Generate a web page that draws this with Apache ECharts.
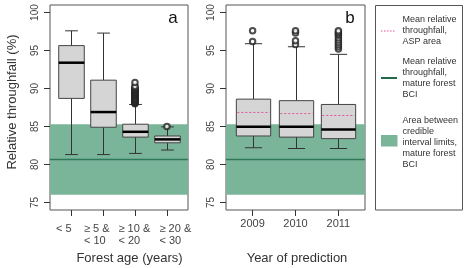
<!DOCTYPE html>
<html><head><meta charset="utf-8">
<script src="https://cdn.jsdelivr.net/npm/echarts@6/dist/echarts.min.js"></script>
<style>html,body{margin:0;padding:0;background:#fff}#c{width:467px;height:268px}</style>
</head><body><div id="c"></div>
<script>
// ---------- data ----------
const ageCategories = ['< 5', '≥ 5 &\n< 10', '≥ 10 &\n< 20', '≥ 20 &\n< 30'];
// [low whisker, Q1, median, Q3, high whisker]
const ageBoxes = [
  [81.3, 88.7, 93.4, 95.65, 97.6],
  [81.3, 84.9, 86.9, 91.1, 97.3],
  [81.45, 83.6, 84.3, 85.3, 87.9],
  [81.9, 82.85, 83.3, 83.75, 84.95]
];
const ageOutliers3 = [88.0, 88.1, 88.2, 88.3, 88.4, 88.5, 88.6, 88.7, 88.8, 88.9, 89.0, 89.1, 89.2, 89.3, 89.4, 89.5, 89.6, 89.7, 89.8, 89.9, 90.0, 90.15, 90.3, 90.8];
const ageOutliers4 = [85.0];
const yearCategories = ['2009', '2010', '2011'];
const yearBoxes = [
  [82.2, 83.75, 84.95, 88.6, 95.9],
  [82.1, 83.6, 84.95, 88.4, 95.5],
  [82.1, 83.4, 84.6, 87.9, 94.5]
];
const yearMeans = [86.85, 86.7, 86.45];
const yearOutliers1 = [96.2, 97.6];
const yearOutliers2 = [95.8, 96.3, 97.3, 97.6];
const yearOutliers3 = [95.2, 95.5, 95.8, 96.1, 96.4, 96.7, 97.0, 97.2, 97.4, 97.6];
const bciMean = 80.65;
const bciLower = 76.0;
const bciUpper = 85.3;
const yTicks = [75, 80, 85, 90, 95, 100];

// ---------- chart ----------
const FONT = '"Liberation Sans", Arial, sans-serif';
const chart = echarts.init(document.getElementById('c'), null, {renderer: 'canvas'});

function boxRender(params, api) {
  const x = api.value(0);
  const lo = api.coord([x, api.value(1)]);
  const q1 = api.coord([x, api.value(2)]);
  const med = api.coord([x, api.value(3)]);
  const q3 = api.coord([x, api.value(4)]);
  const hi = api.coord([x, api.value(5)]);
  const hw = api.size([0.4, 0])[0];
  const cw = hw / 2;
  const cx = Math.round(lo[0]) + 0.5;
  const st = {stroke: '#333', lineWidth: 1, fill: null};
  const ch = [
    {type: 'line', shape: {x1: cx, y1: q3[1], x2: cx, y2: hi[1]}, style: st},
    {type: 'line', shape: {x1: cx, y1: q1[1], x2: cx, y2: lo[1]}, style: st},
    {type: 'line', shape: {x1: cx - cw, y1: hi[1], x2: cx + cw, y2: hi[1]}, style: st},
    {type: 'line', shape: {x1: cx - cw, y1: lo[1], x2: cx + cw, y2: lo[1]}, style: st},
    {type: 'rect', shape: {x: cx - hw, y: q3[1], width: 2 * hw, height: q1[1] - q3[1]},
      style: {fill: '#d5d5d5', stroke: '#444', lineWidth: 1}},
    {type: 'line', shape: {x1: cx - hw, y1: med[1], x2: cx + hw, y2: med[1]},
      style: {stroke: '#000', lineWidth: 2.5}}
  ];
  const m = api.value(6);
  if (m != null && !isNaN(m)) {
    const mp = api.coord([x, m]);
    ch.push({type: 'line', shape: {x1: cx - hw + 1, y1: mp[1], x2: cx + hw - 1, y2: mp[1]},
      style: {stroke: '#e0509a', lineWidth: 1, lineDash: [2, 2]}});
  }
  return {type: 'group', children: ch};
}

function yAxisCfg(gi) {
  return {
    type: 'value', gridIndex: gi, min: 74, max: 101,
    axisLine: {show: false},
    splitLine: {show: false},
    axisTick: {show: true, customValues: yTicks, length: 6, lineStyle: {color: '#333'}},
    axisLabel: {customValues: yTicks, rotate: 90, margin: 10, fontSize: 10, color: '#444', fontFamily: FONT}
  };
}
function xAxisCfg(gi, cats, showLabels) {
  const vals = cats.map((c, i) => i + 1);
  return {
    type: 'value', gridIndex: gi, min: 0.38 - (cats.length === 4 ? 0.04 : 0), max: cats.length + 0.62 + (cats.length === 4 ? 0.04 : 0),
    axisLine: {show: false},
    splitLine: {show: false},
    axisTick: {show: true, customValues: vals, length: 6, lineStyle: {color: '#333'}},
    axisLabel: {show: showLabels, customValues: vals, margin: 8, fontSize: 11, lineHeight: 12, color: '#444', fontFamily: FONT,
      formatter: v => cats[Math.round(v) - 1]}
  };
}

const bandSeries = gi => ({
  type: 'line', xAxisIndex: gi, yAxisIndex: gi, data: [], z: 1, silent: true,
  markArea: {silent: true, itemStyle: {color: '#7ab59a'}, data: [[{yAxis: bciLower}, {yAxis: bciUpper}]]},
  markLine: {silent: true, symbol: 'none', label: {show: false},
    lineStyle: {color: '#2e7a58', width: 1.3, type: 'solid'}, data: [{yAxis: bciMean}]}
});

const ageData = ageBoxes.map((b, i) => [i + 1, ...b]);
const yearData = yearBoxes.map((b, i) => [i + 1, ...b, yearMeans[i]]);
const outA = [].concat(ageOutliers3.map(v => [3, v]), ageOutliers4.map(v => [4, v]));
const outB = [].concat(yearOutliers1.map(v => [1, v]), yearOutliers2.map(v => [2, v]), yearOutliers3.map(v => [3, v]));

const scatterCfg = (gi, d) => ({
  type: 'scatter', xAxisIndex: gi, yAxisIndex: gi, data: d, z: 4, symbol: 'emptyCircle', symbolSize: 5.5,
  itemStyle: {color: '#222', borderColor: '#222', borderWidth: 1.1}, silent: true
});

const legendText = (x, y, lines) => lines.map((t, i) => ({
  type: 'text', left: x, top: y + i * 10.9,
  style: {text: t, font: '9px ' + FONT, fill: '#333'}
}));

// panel a category labels (left-aligned as in the original figure)
const ageLabelLefts = [56, 84, 118.5, 159.5];
const ageLabelGraphics = ageCategories.map((t, i) => ({
  type: 'text', x: ageLabelLefts[i], y: 223,
  style: {text: t, font: '11px ' + FONT, fill: '#444', lineHeight: 12, align: 'left', verticalAlign: 'top'}
}));

chart.setOption({
  animation: false,
  grid: [
    {left: 50, width: 138, top: 5, height: 205, show: true, borderColor: '#555', borderWidth: 1, backgroundColor: 'transparent'},
    {left: 226, width: 139, top: 5, height: 205, show: true, borderColor: '#555', borderWidth: 1, backgroundColor: 'transparent'}
  ],
  xAxis: [xAxisCfg(0, ageCategories, false), xAxisCfg(1, yearCategories, true)],
  yAxis: [yAxisCfg(0), yAxisCfg(1)],
  series: [
    bandSeries(0), bandSeries(1),
    {type: 'custom', xAxisIndex: 0, yAxisIndex: 0, data: ageData, renderItem: boxRender, z: 3, silent: true},
    {type: 'custom', xAxisIndex: 1, yAxisIndex: 1, data: yearData, renderItem: boxRender, z: 3, silent: true},
    scatterCfg(0, outA), scatterCfg(1, outB)
  ],
  graphic: [
    ...ageLabelGraphics,
    {type: 'text', x: 173, y: 18, style: {text: 'a', font: '17px ' + FONT, fill: '#111', align: 'center', verticalAlign: 'middle'}},
    {type: 'text', x: 350, y: 18, style: {text: 'b', font: '17px ' + FONT, fill: '#111', align: 'center', verticalAlign: 'middle'}},
    {type: 'text', x: 12.5, y: 102, rotation: Math.PI / 2,
      style: {text: 'Relative throughfall (%)', font: '13px ' + FONT, fill: '#333', align: 'center', verticalAlign: 'middle'}},
    {type: 'text', x: 129.5, y: 258, style: {text: 'Forest age (years)', font: '13px ' + FONT, fill: '#333', align: 'center', verticalAlign: 'middle'}},
    {type: 'text', x: 297, y: 258, style: {text: 'Year of prediction', font: '13px ' + FONT, fill: '#333', align: 'center', verticalAlign: 'middle'}},
    {type: 'rect', shape: {x: 375.5, y: 5.5, width: 87, height: 204.5}, style: {fill: null, stroke: '#555', lineWidth: 1}},
    {type: 'line', shape: {x1: 381, y1: 31, x2: 396, y2: 31}, style: {stroke: '#e0509a', lineWidth: 1, lineDash: [1.5, 1.5]}},
    {type: 'line', shape: {x1: 381, y1: 78, x2: 397, y2: 78}, style: {stroke: '#1f6b4b', lineWidth: 2}},
    {type: 'rect', shape: {x: 381, y: 135, width: 16.5, height: 11.5}, style: {fill: '#7ab59a'}},
    ...legendText(402.5, 15, ['Mean relative', 'throughfall,', 'ASP area']),
    ...legendText(402.5, 57, ['Mean relative', 'throughfall,', 'mature forest', 'BCI']),
    ...legendText(402.5, 116, ['Area between', 'credible', 'interval limits,', 'mature forest', 'BCI'])
  ]
});
</script>
</body></html>
